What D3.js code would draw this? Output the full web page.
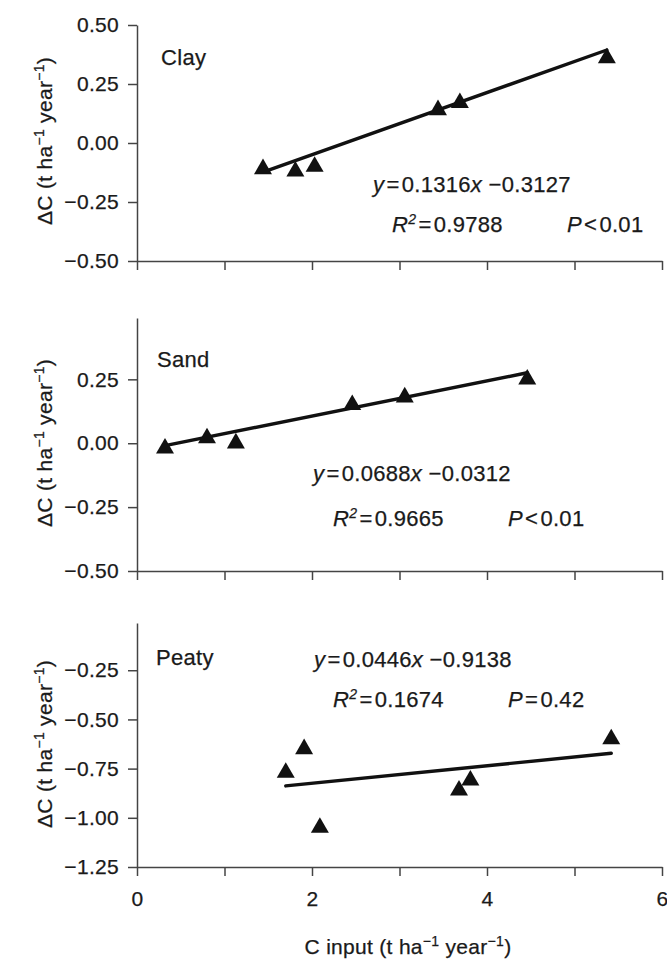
<!DOCTYPE html>
<html>
<head>
<meta charset="utf-8">
<script src="https://cdn.jsdelivr.net/npm/d3@7"></script>
<style>
  html, body { margin: 0; padding: 0; background: #fff; }
  svg { display: block; }
  text { font-family: "Liberation Sans", Arial, Helvetica, sans-serif; fill: #1a1a1a; stroke: #1a1a1a; stroke-width: 0.25px; }
</style>
</head>
<body>
<svg id="chart" width="667" height="961"></svg>
<script>
// ---------------- data ----------------
const soils = ["Clay", "Sand", "Peaty"];

const clayX = [1.44, 1.81, 2.03, 3.44, 3.69, 5.37];
const clayY = [-0.11, -0.12, -0.10, 0.14, 0.17, 0.36];

const sandX = [0.32, 0.80, 1.13, 2.46, 3.06, 4.46];
const sandY = [-0.02, 0.02, 0.00, 0.15, 0.18, 0.25];

const peatX = [1.70, 1.91, 2.09, 3.68, 3.81, 5.42];
const peatY = [-0.77, -0.65, -1.05, -0.86, -0.81, -0.60];

const slopes = [0.1316, 0.0688, 0.0446];
const intercepts = [-0.3127, -0.0312, -0.9138];
const slopeLabels = ["0.1316", "0.0688", "0.0446"];
const interceptLabels = ["0.3127", "0.0312", "0.9138"];
const r2Labels = ["0.9788", "0.9665", "0.1674"];
const pOps = ["<", "<", "="];
const pLabels = ["0.01", "0.01", "0.42"];

const xDomain = [0, 6];
const xTickValues = [0, 1, 2, 3, 4, 5, 6];
const xTickLabelValues = [0, 2, 4, 6];

const yDomains = [[-0.5, 0.5], [-0.5, 0.49], [-1.25, -0.01]];
const yTickValues = [
  [0.5, 0.25, 0, -0.25, -0.5],
  [0.25, 0, -0.25, -0.5],
  [-0.25, -0.5, -0.75, -1.0, -1.25]
];

const seriesX = [clayX, sandX, peatX];
const seriesY = [clayY, sandY, peatY];

// ---------------- layout ----------------
const xRange = [137, 662];
const panels = [
  { yRange: [261, 25],  name: [161, 65],  eq: [373, 192], r2: [392, 232], p: [567, 232], title: 141 },
  { yRange: [571, 318], name: [157, 367], eq: [313, 481], r2: [333, 526], p: [508, 526], title: 443 },
  { yRange: [867, 623], name: [156, 665], eq: [314, 667], r2: [333, 707], p: [508, 707], title: 744 }
];
const FS = 21;
const FSA = 22;
const LS = "0.3px";
const axisColor = "#444";

const svg = d3.select("#chart");
const x = d3.scaleLinear().domain(xDomain).range(xRange);
const fmt = d3.format(".2f");

panels.forEach((pl, i) => {
  const y = d3.scaleLinear().domain(yDomains[i]).range(pl.yRange);
  const g = svg.append("g");

  // x axis
  const xAxis = d3.axisBottom(x)
    .tickValues(xTickValues)
    .tickSize(9)
    .tickSizeOuter(0)
    .tickPadding(15)
    .tickFormat(d => (i === 2 && xTickLabelValues.includes(d)) ? d3.format("d")(d) : "");
  const gx = g.append("g")
    .attr("transform", `translate(0,${pl.yRange[0]})`)
    .call(xAxis);

  // y axis
  const yAxis = d3.axisLeft(y)
    .tickValues(yTickValues[i])
    .tickSize(9)
    .tickSizeOuter(0)
    .tickPadding(9)
    .tickFormat(fmt);
  const gy = g.append("g")
    .attr("transform", `translate(${xRange[0]},0)`)
    .call(yAxis);

  [gx, gy].forEach(a => {
    a.selectAll("path.domain").attr("stroke", axisColor).attr("stroke-width", 1.5);
    a.selectAll(".tick line").attr("stroke", axisColor).attr("stroke-width", 1.5);
    a.selectAll(".tick text")
      .attr("fill", "#1a1a1a")
      .attr("stroke", "#1a1a1a")
      .attr("stroke-width", 0.25)
      .style("font-size", FS + "px")
      .style("letter-spacing", LS)
      .style("font-family", '"Liberation Sans", Arial, sans-serif');
  });

  // regression line
  const xs = seriesX[i];
  const x0 = d3.min(xs), x1 = d3.max(xs);
  g.append("line")
    .attr("x1", x(x0)).attr("y1", y(slopes[i] * x0 + intercepts[i]))
    .attr("x2", x(x1)).attr("y2", y(slopes[i] * x1 + intercepts[i]))
    .attr("stroke", "#111").attr("stroke-width", 3.4).attr("stroke-linecap", "round");

  // points
  const pts = xs.map((v, k) => ({ x: v, y: seriesY[i][k] }));
  g.selectAll("path.pt").data(pts).join("path")
    .attr("class", "pt")
    .attr("d", d3.symbol(d3.symbolTriangle, 140))
    .attr("transform", d => `translate(${x(d.x)},${y(d.y)})`)
    .attr("fill", "#111");

  // soil name
  g.append("text")
    .attr("x", pl.name[0]).attr("y", pl.name[1])
    .style("font-size", FSA + "px").style("letter-spacing", LS)
    .text(soils[i]);

  // equation
  const eq = g.append("text")
    .attr("x", pl.eq[0]).attr("y", pl.eq[1])
    .style("font-size", FSA + "px").style("letter-spacing", LS);
  eq.append("tspan").style("font-style", "italic").text("y");
  eq.append("tspan").text("\u200A=\u200A" + slopeLabels[i]);
  eq.append("tspan").style("font-style", "italic").text("x");
  eq.append("tspan").text(" \u2212" + interceptLabels[i]);

  // R^2
  const r2 = g.append("text")
    .attr("x", pl.r2[0]).attr("y", pl.r2[1])
    .style("font-size", FSA + "px").style("letter-spacing", LS);
  r2.append("tspan").style("font-style", "italic").text("R");
  r2.append("tspan").style("font-style", "italic").style("font-size", "14px").attr("dy", -8).text("2");
  r2.append("tspan").attr("dy", 8).text("\u200A=\u200A" + r2Labels[i]);

  // P
  const p = g.append("text")
    .attr("x", pl.p[0]).attr("y", pl.p[1])
    .style("font-size", FSA + "px").style("letter-spacing", LS);
  p.append("tspan").style("font-style", "italic").text("P");
  p.append("tspan").text("\u200A" + pOps[i] + "\u200A" + pLabels[i]);

  // y title
  const yt = g.append("text")
    .attr("transform", `translate(52,${pl.title}) rotate(-90)`)
    .attr("text-anchor", "middle")
    .style("font-size", FS + "px").style("letter-spacing", LS);
  yt.append("tspan").text("\u0394C (t ha");
  yt.append("tspan").style("font-size", "14px").attr("dy", -8).text("\u22121");
  yt.append("tspan").attr("dy", 8).text(" year");
  yt.append("tspan").style("font-size", "14px").attr("dy", -8).text("\u22121");
  yt.append("tspan").attr("dy", 8).text(")");
});

// x title
const xt = svg.append("text")
  .attr("x", 408).attr("y", 954)
  .attr("text-anchor", "middle")
  .style("font-size", FS + "px").style("letter-spacing", LS);
xt.append("tspan").text("C input (t ha");
xt.append("tspan").style("font-size", "14px").attr("dy", -8).text("\u22121");
xt.append("tspan").attr("dy", 8).text(" year");
xt.append("tspan").style("font-size", "14px").attr("dy", -8).text("\u22121");
xt.append("tspan").attr("dy", 8).text(")");
</script>
</body>
</html>
